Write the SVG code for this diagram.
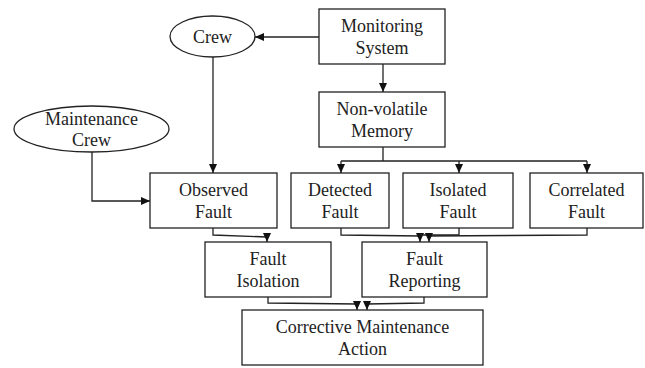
<svg xmlns="http://www.w3.org/2000/svg" width="645" height="368" viewBox="0 0 645 368">
<style>
.n{fill:#fff;stroke:#222;stroke-width:1.3}
.t{font-size:18px;fill:#222;text-anchor:middle}
.c{fill:none;stroke:#222;stroke-width:1.3}
</style>
<defs>
<marker id="a" markerWidth="10" markerHeight="10" refX="9" refY="5" orient="auto" markerUnits="userSpaceOnUse" viewBox="0 0 10 10">
<path d="M0,1 L9,5 L0,9 Z" fill="#111"/>
</marker>
</defs>
<rect width="645" height="368" fill="#fff"/>
<g id="connectors">
<path class="c" d="M319,37 L255,37" marker-end="url(#a)"/>
<path class="c" d="M383,64 L383,92" marker-end="url(#a)"/>
<path class="c" d="M383,147 L383,161 M341,161 L587,161"/>
<path class="c" d="M341,161 L341,173" marker-end="url(#a)"/>
<path class="c" d="M459,161 L459,173" marker-end="url(#a)"/>
<path class="c" d="M587,161 L587,173" marker-end="url(#a)"/>
<path class="c" d="M213,57 L213,173" marker-end="url(#a)"/>
<path class="c" d="M92,152 L92,201 L150,201" marker-end="url(#a)"/>
<path class="c" d="M213,228 L213,235 L267,237 L267,242" marker-end="url(#a)"/>
<path class="c" d="M341,228 L341,235 L420,236 L420,242" marker-end="url(#a)"/>
<path class="c" d="M459,228 L459,235 L420,235"/>
<path class="c" d="M587,228 L587,235 L429,236 L429,242" marker-end="url(#a)"/>
<path class="c" d="M268,297 L268,303 L357,304 L357,310" marker-end="url(#a)"/>
<path class="c" d="M424,297 L424,303 L367,304 L367,310" marker-end="url(#a)"/>
</g>
<g font-family="Liberation Serif, DejaVu Serif, serif">
<g id="monitoring"><rect class="n" x="319" y="9" width="126" height="55"/><text class="t" x="382" y="32">Monitoring</text><text class="t" x="382" y="54">System</text></g>
<g id="memory"><rect class="n" x="319" y="92" width="126" height="55"/><text class="t" x="382" y="115">Non-volatile</text><text class="t" x="382" y="137">Memory</text></g>
<g id="crew"><ellipse class="n" cx="212.5" cy="36.5" rx="42.5" ry="20.5"/><text class="t" x="212.5" y="42.5">Crew</text></g>
<g id="maintcrew"><ellipse class="n" cx="91.5" cy="129" rx="77.5" ry="23"/><text class="t" x="91.5" y="125">Maintenance</text><text class="t" x="91.5" y="146">Crew</text></g>
<g id="observed"><rect class="n" x="150" y="173" width="127" height="55"/><text class="t" x="213.5" y="196">Observed</text><text class="t" x="213.5" y="218">Fault</text></g>
<g id="detected"><rect class="n" x="291" y="173" width="98" height="55"/><text class="t" x="340" y="196">Detected</text><text class="t" x="340" y="218">Fault</text></g>
<g id="isolated"><rect class="n" x="403" y="173" width="110" height="55"/><text class="t" x="458" y="196">Isolated</text><text class="t" x="458" y="218">Fault</text></g>
<g id="correlated"><rect class="n" x="530" y="173" width="113" height="55"/><text class="t" x="586.5" y="196">Correlated</text><text class="t" x="586.5" y="218">Fault</text></g>
<g id="isolation"><rect class="n" x="205" y="242" width="126" height="55"/><text class="t" x="268" y="265">Fault</text><text class="t" x="268" y="287">Isolation</text></g>
<g id="reporting"><rect class="n" x="362" y="242" width="125" height="55"/><text class="t" x="424.5" y="265">Fault</text><text class="t" x="424.5" y="287">Reporting</text></g>
<g id="corrective"><rect class="n" x="242" y="310" width="241" height="55"/><text class="t" x="362.5" y="333">Corrective Maintenance</text><text class="t" x="362.5" y="355">Action</text></g>
</g>
</svg>
